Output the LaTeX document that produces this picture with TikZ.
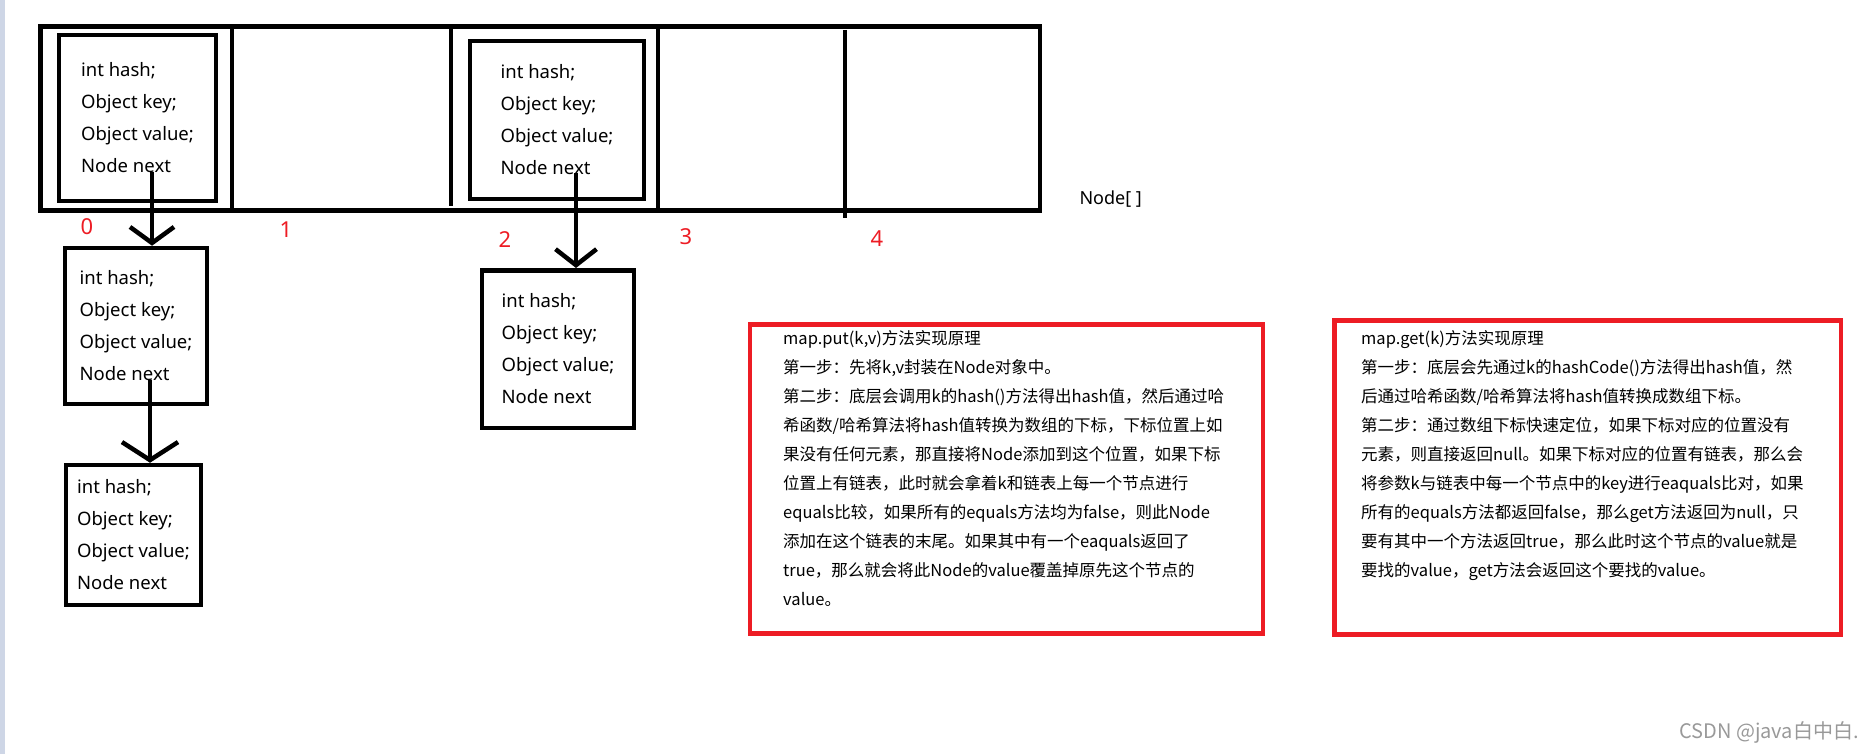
\documentclass[tikz,border=0pt]{standalone}
\usepackage{fontspec}
\setmainfont{Noto Sans}
\newfontfamily\cjk{Noto Sans CJK SC}
\usetikzlibrary{arrows.meta}
\definecolor{paintred}{RGB}{237,28,36}
\definecolor{stripe}{RGB}{206,214,230}
\definecolor{mark}{RGB}{153,153,153}
\newcommand{\nodefields}{int hash;\\Object key;\\Object value;\\Node next}

\begin{document}
\begin{tikzpicture}[x=1pt, y=-1pt,
    arr/.style={draw, line width=4.5pt, inner sep=0pt},
    entry/.style={draw, line width=4.5pt, inner sep=0pt, align=left, font=\fontsize{18.5}{32}\selectfont},
    idx/.style={text=paintred, font=\fontsize{22}{26}\selectfont},
    note/.style={draw=paintred, line width=4.5pt, inner sep=0pt},
    notetext/.style={anchor=north west, inner sep=0pt, align=left, font=\cjk\fontsize{16.5}{29}\selectfont},
    link/.style={line width=4.5pt, -{Straight Barb[length=16pt, width=44pt]}}]
\useasboundingbox (0,0) rectangle (1870,754);
\fill[stripe] (0,0) rectangle (5,754);

% the Node[] table
\node[arr, minimum width=999.5pt, minimum height=184pt] (tab) at (540.25,118.3) {};
\foreach \x/\ya/\yb in {232/26/210, 451/28/206, 658/26/210, 845/30/218}
    \draw[line width=4.5pt] (\x,\ya) -- (\x,\yb);
\foreach \i/\x/\y in {0/87/227, 1/286/230, 2/505/240, 3/686/237, 4/877/239}
    \node[idx] (i\i) at (\x,\y) {\i};
\node[anchor=west, font=\fontsize{18}{22}\selectfont] (tabname) at (1076,199) {Node[ ]};

% entries
\node[entry, minimum width=157pt, minimum height=166pt] (n0) at (137.5,118) {\nodefields};
\node[entry, minimum width=142pt, minimum height=156pt] (n0a) at (136,326) {\nodefields};
\node[entry, minimum width=135pt, minimum height=140pt] (n0b) at (133.5,535) {\nodefields};
\node[entry, minimum width=174pt, minimum height=158pt] (n2) at (557,120) {\nodefields};
\node[entry, minimum width=152pt, minimum height=157.5pt] (n2a) at (558,349) {\nodefields};

\coordinate (n0next) at (152,172);
\coordinate (n0anext) at (150,380);
\coordinate (n2next) at (576,173);
\draw[link] (n0next) -- (n0next |- n0a.north);
\draw[link, -{Straight Barb[length=18pt, width=56pt]}] (n0anext) -- (n0anext |- n0b.north);
\draw[link, -{Straight Barb[length=16pt, width=41pt]}] (n2next) -- (n2next |- n2a.north);

% put / get
\node[note, minimum width=513pt, minimum height=309pt] (putbox) at (1006.5,479) {};
\node[notetext] (puttext) at (783,330) {map.put(k,v)方法实现原理\\
第一步：先将k,v封装在Node对象中。\\
第二步：底层会调用k的hash()方法得出hash值，然后通过哈\\
希函数/哈希算法将hash值转换为数组的下标，下标位置上如\\
果没有任何元素，那直接将Node添加到这个位置，如果下标\\
位置上有链表，此时就会拿着k和链表上每一个节点进行\\
equals比较，如果所有的equals方法均为false，则此Node\\
添加在这个链表的末尾。如果其中有一个eaquals返回了\\
true，那么就会将此Node的value覆盖掉原先这个节点的\\
value。};
\node[note, minimum width=506.5pt, minimum height=314pt] (getbox) at (1587.75,477.5) {};
\node[notetext] (gettext) at (1361,330) {map.get(k)方法实现原理\\
第一步：底层会先通过k的hashCode()方法得出hash值，然\\
后通过哈希函数/哈希算法将hash值转换成数组下标。\\
第二步：通过数组下标快速定位，如果下标对应的位置没有\\
元素，则直接返回null。如果下标对应的位置有链表，那么会\\
将参数k与链表中每一个节点中的key进行eaquals比对，如果\\
所有的equals方法都返回false，那么get方法返回为null，只\\
要有其中一个方法返回true，那么此时这个节点的value就是\\
要找的value，get方法会返回这个要找的value。};

\node[text=mark, font=\cjk\fontsize{20}{24}\selectfont] (csdn) at (1769,732) {CSDN @java白中白.};
\end{tikzpicture}
\end{document}
